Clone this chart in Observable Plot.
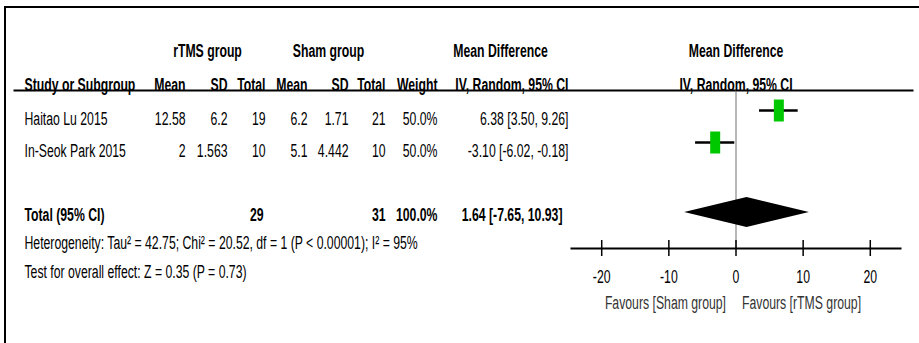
<!DOCTYPE html>
<html>
<head>
<meta charset="utf-8">
<script src="https://cdn.jsdelivr.net/npm/d3@7"></script>
<script src="https://cdn.jsdelivr.net/npm/@observablehq/plot@0.6"></script>
<style>
  body { margin: 0; background: #fff; }
  #wrap { position: relative; width: 919px; height: 343px; overflow: hidden; background: #fff; }
  #wrap svg { position: absolute; left: 0; top: 0; }
  #box { position: absolute; left: 4px; top: 6px; width: 1000px; height: 1000px;
         border-top: 2px solid #000; border-left: 2px solid #000; pointer-events: none; }
</style>
</head>
<body>
<div id="wrap"><div id="box"></div></div>
<script>
// ---------------- data ----------------
const studies    = ["Haitao Lu 2015", "In-Seok Park 2015"];
const rtmsMean   = [12.58, 2];
const rtmsSD     = [6.2, 1.563];
const rtmsTotal  = [19, 10];
const shamMean   = [6.2, 5.1];
const shamSD     = [1.71, 4.442];
const shamTotal  = [21, 10];
const weights    = [50.0, 50.0];
const meanDiff   = [6.38, -3.10];
const ciLow      = [3.50, -6.02];
const ciHigh     = [9.26, -0.18];

const totalLabel  = "Total (95% CI)";
const totalRtms   = 29;
const totalSham   = 31;
const totalWeight = 100.0;
const pooledMD    = 1.64;
const pooledLow   = -7.65;
const pooledHigh  = 10.93;

const heterogeneity = { tau2: 42.75, chi2: 20.52, df: 1, p: "< 0.00001", i2: 95 };
const overallEffect = { z: 0.35, p: 0.73 };

const groupHeaders  = ["rTMS group", "Sham group"];
const columnHeaders = ["Study or Subgroup", "Mean", "SD", "Total", "Mean", "SD", "Total", "Weight", "IV, Random, 95% CI"];
const effectHeader  = ["Mean Difference", "IV, Random, 95% CI"];
const axisTicks     = [-20, -10, 0, 10, 20];
const axisExtent    = [-24.5, 24.5];
const favours       = ["Favours [Sham group]", "Favours [rTMS group]"];

// ---------------- layout (styles / positions, not data) ----------------
const W = 919, H = 343;
const M = { top: 90, right: 19, bottom: 95, left: 571 };
// right edge (px) of each table column, study column is left aligned
const colEdge = [24, 185, 227, 265, 307, 348, 385, 437, 568];
const groupCenter = [207, 328];
const mdHeaderCenter = 500;
const FONT = "'Liberation Sans', Arial, Helvetica, sans-serif";
const FS = 19;
const SQUEEZE = 0.645;   // the reference's lettering is horizontally condensed

const fmtCI = (m, l, h) => `${m.toFixed(2)} [${l.toFixed(2)}, ${h.toFixed(2)}]`;

const rows = studies.map((s, i) => ({
  row: i + 1,
  md: meanDiff[i], lo: ciLow[i], hi: ciHigh[i],
  cells: [s, String(rtmsMean[i]), String(rtmsSD[i]), String(rtmsTotal[i]),
          String(shamMean[i]), String(shamSD[i]), String(shamTotal[i]),
          weights[i].toFixed(1) + "%", fmtCI(meanDiff[i], ciLow[i], ciHigh[i])]
}));
const totalRow = studies.length + 2;
const totalCells = [
  {c: 0, t: totalLabel},
  {c: 3, t: String(totalRtms), shift: -2},
  {c: 6, t: String(totalSham)},
  {c: 7, t: totalWeight.toFixed(1) + "%"},
  {c: 8, t: fmtCI(pooledMD, pooledLow, pooledHigh), shift: -6}
];
const diamond = [
  {y: totalRow - 0.47, x1: pooledMD, x2: pooledMD},
  {y: totalRow,        x1: pooledLow, x2: pooledHigh},
  {y: totalRow + 0.47, x1: pooledMD, x2: pooledMD}
];
const hetText = `Heterogeneity: Tau² = ${heterogeneity.tau2}; Chi² = ${heterogeneity.chi2}, df = ${heterogeneity.df} (P ${heterogeneity.p}); I² = ${heterogeneity.i2}%`;
const testText = `Test for overall effect: Z = ${overallEffect.z} (P = ${overallEffect.p})`;
const footRows = [{row: totalRow + 1, t: hetText, dy: -4}, {row: totalRow + 2, t: testText, dy: -7}];

const tallRect = { draw(ctx) { ctx.rect(-5, -11, 10, 22); } };

const marks = [];

// header underline and zero line
marks.push(Plot.frame({anchor: "top", insetLeft: -(M.left - 14), insetRight: -(M.right - 7), stroke: "#000", strokeWidth: 2}));
marks.push(Plot.ruleX([0], {stroke: "#707070", strokeWidth: 1}));

// group headers
groupHeaders.forEach((g, i) => marks.push(Plot.text([g], {
  frameAnchor: "top-left", dx: groupCenter[i] - M.left, dy: -47, textAnchor: "middle", fontWeight: "bold"
})));
marks.push(Plot.text([effectHeader[0]], {frameAnchor: "top-left", dx: mdHeaderCenter - M.left, dy: -47, textAnchor: "middle", fontWeight: "bold"}));
marks.push(Plot.text([effectHeader[0]], {frameAnchor: "top", dy: -47, textAnchor: "middle", fontWeight: "bold"}));
marks.push(Plot.text([effectHeader[1]], {frameAnchor: "top", dy: -13, textAnchor: "middle", fontWeight: "bold"}));

// column headers
columnHeaders.forEach((h, c) => marks.push(Plot.text([h], {
  frameAnchor: "top-left", dx: colEdge[c] - M.left, dy: -13,
  textAnchor: c === 0 ? "start" : "end", fontWeight: "bold"
})));

// study rows
columnHeaders.forEach((h, c) => marks.push(Plot.text(rows, {
  y: "row", text: d => d.cells[c], frameAnchor: "left", dx: colEdge[c] - M.left,
  textAnchor: c === 0 ? "start" : "end"
})));

// total row
totalCells.forEach(d => marks.push(Plot.text([d], {
  y: () => totalRow, text: "t", frameAnchor: "left", dx: colEdge[d.c] - M.left + (d.shift || 0),
  textAnchor: d.c === 0 ? "start" : "end", fontWeight: "bold"
})));

// footnotes
footRows.forEach(d => marks.push(Plot.text([d], {
  y: "row", text: "t", frameAnchor: "left", dx: colEdge[0] - M.left, dy: d.dy, textAnchor: "start"
})));

// forest marks
marks.push(Plot.ruleY(rows, {y: "row", x1: "lo", x2: "hi", stroke: "#000", strokeWidth: 2.5, dy: -8}));
marks.push(Plot.dot(rows, {x: "md", y: "row", symbol: tallRect, fill: "#00c800", stroke: null, dy: -8}));
marks.push(Plot.areaX(diamond, {y: "y", x1: "x1", x2: "x2", fill: "#000", dy: -2}));

// axis
marks.push(Plot.frame({anchor: "bottom", stroke: "#000", strokeWidth: 2}));
marks.push(Plot.axisX(axisTicks, {anchor: "bottom", tickSize: 16, dy: -8, tickFormat: () => "", label: null, stroke: "#000", strokeWidth: 1.5}));
marks.push(Plot.axisX(axisTicks, {anchor: "bottom", tickSize: 0, tickPadding: 21, tickFormat: d => String(d), label: null, fontSize: FS, fill: "#000"}));

// favours labels
marks.push(Plot.text([favours[0]], {x: () => 0, frameAnchor: "bottom", dx: -10, dy: 60, textAnchor: "end", fill: "#333"}));
marks.push(Plot.text([favours[1]], {x: () => 0, frameAnchor: "bottom", dx: 6, dy: 60, textAnchor: "start", fill: "#333"}));

const chart = Plot.plot({
  width: W, height: H,
  marginTop: M.top, marginRight: M.right, marginBottom: M.bottom, marginLeft: M.left,
  style: {fontFamily: FONT, fontSize: FS + "px", color: "#000", background: "transparent", overflow: "visible"},
  x: {domain: axisExtent},
  y: {domain: [0, 5], reverse: true, insetTop: -4, insetBottom: 2, axis: null},
  marks
});

// condense the lettering around each text's own anchor point
chart.querySelectorAll("text").forEach(t => {
  const xa = t.getAttribute("x");
  if (xa !== null && /^-?[\d.]+$/.test(xa)) t.setAttribute("x", String(+xa / SQUEEZE));
  const tr = t.getAttribute("transform") || "";
  t.setAttribute("transform", (tr + ` scale(${SQUEEZE},1)`).trim());
});

document.getElementById("wrap").insertBefore(chart, document.getElementById("box"));
</script>
</body>
</html>
